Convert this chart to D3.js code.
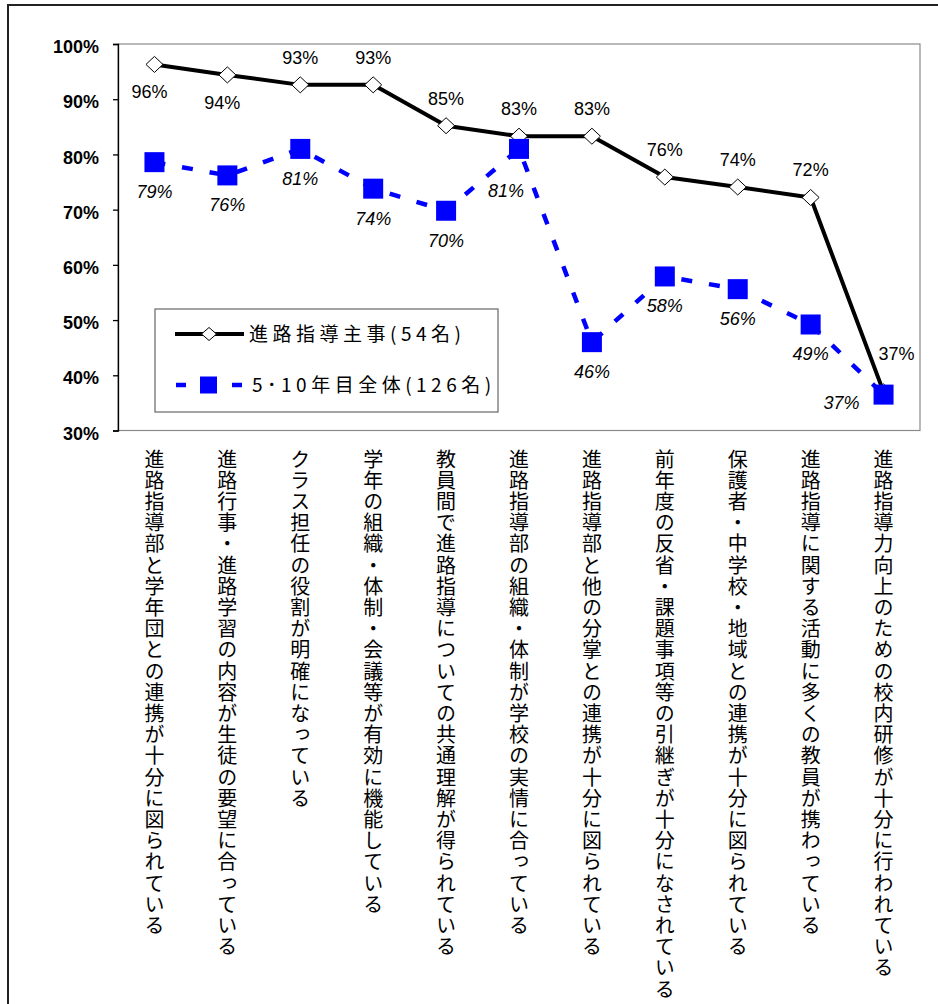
<!DOCTYPE html>
<html lang="ja">
<head>
<meta charset="utf-8">
<script src="https://cdn.jsdelivr.net/npm/d3@7"></script>
<style>
  html, body { margin: 0; padding: 0; background: #fff; }
  svg { display: block; }
  .ytick text { font-family: "Liberation Sans", Arial, sans-serif; font-weight: bold; font-size: 18px; fill: #000; }
  .val { font-family: "Liberation Sans", Arial, sans-serif; font-size: 18px; fill: #000; }
  .val.s2 { font-style: italic; }
  .cat { font-family: "Noto Sans CJK JP", sans-serif; font-size: 20px; fill: #000; writing-mode: vertical-rl; letter-spacing: 1.2px; }
  .leg { font-family: "Noto Sans CJK JP", sans-serif; font-size: 19px; fill: #000; letter-spacing: 4.5px; }
</style>
</head>
<body>
<svg id="chart" width="938" height="1004"></svg>
<script>
// Survey items (x axis)
const categories = [
  "進路指導部と学年団との連携が十分に図られている",
  "進路行事・進路学習の内容が生徒の要望に合っている",
  "クラス担任の役割が明確になっている",
  "学年の組織・体制・会議等が有効に機能している",
  "教員間で進路指導についての共通理解が得られている",
  "進路指導部の組織・体制が学校の実情に合っている",
  "進路指導部と他の分掌との連携が十分に図られている",
  "前年度の反省・課題事項等の引継ぎが十分になされている",
  "保護者・中学校・地域との連携が十分に図られている",
  "進路指導に関する活動に多くの教員が携わっている",
  "進路指導力向上のための校内研修が十分に行われている"
];

// Series names
const seriesNames = ["進路指導主事(54名)", "5･10年目全体(126名)"];

// Share answering "yes" (%)
const chiefValues = [96.3, 94.4, 92.6, 92.6, 85.2, 83.3, 83.3, 75.9, 74.1, 72.2, 37.0];
const allValues   = [78.6, 76.2, 81.0, 73.8, 69.8, 81.0, 46.0, 57.9, 55.6, 49.2, 36.5];

// Y axis ticks (%)
const yTicks = [30, 40, 50, 60, 70, 80, 90, 100];

// Where each value label sits relative to its marker
const chiefLabelSide = ["below", "below", "above", "above", "above", "above", "above", "above", "above", "above", "right"];
const allLabelSide   = ["below", "below", "below", "below", "below", "belowLeft", "below", "below", "below", "below", "left"];

const svg = d3.select("#chart");
const W = 938, H = 1004;
const plot = { left: 118, right: 920, top: 44, bottom: 430.5 };

svg.append("rect").attr("width", W).attr("height", H).attr("fill", "#fff");

// outer frame (open to the right and bottom)
svg.append("path")
  .attr("d", `M8,${H + 2}V5H${W + 2}`)
  .attr("fill", "none").attr("stroke", "#222").attr("stroke-width", 2);

const x = d3.scaleBand().domain(categories).range([plot.left, plot.right]).padding(0);
const cx = c => x(c) + x.bandwidth() / 2;
const y = d3.scaleLinear().domain([30, 100]).range([plot.bottom, plot.top]);

// plot area border
svg.append("rect")
  .attr("x", plot.left).attr("y", plot.top)
  .attr("width", plot.right - plot.left).attr("height", plot.bottom - plot.top)
  .attr("fill", "none").attr("stroke", "#8a8a8a").attr("stroke-width", 1.2);

// y axis
const yAxis = svg.append("g").attr("class", "ytick")
  .attr("transform", `translate(${plot.left},0)`)
  .call(d3.axisLeft(y).tickValues(yTicks).tickSize(5).tickPadding(14).tickFormat(d => d + "%"));
yAxis.select(".domain").attr("stroke", "#000").attr("stroke-width", 1.3);
yAxis.selectAll(".tick line").attr("stroke", "#000").attr("stroke-width", 1.3);
yAxis.selectAll(".tick text").attr("dy", "0.48em");

// category labels, written vertically
svg.append("g").selectAll("text").data(categories).join("text")
  .attr("class", "cat")
  .attr("x", d => cx(d))
  .attr("y", 449)
  .attr("text-anchor", "start")
  .text(d => d);

const diamondPath = (hw, hh) => `M0,${-hh}L${hw},0L0,${hh}L${-hw},0Z`;

// series 1: solid black line with white diamonds
const line = d3.line().x((d, i) => cx(categories[i])).y(d => y(d));
svg.append("path").datum(chiefValues)
  .attr("d", line).attr("fill", "none")
  .attr("stroke", "#000").attr("stroke-width", 4).attr("stroke-linejoin", "round");
svg.append("g").selectAll("path").data(chiefValues).join("path")
  .attr("transform", (d, i) => `translate(${cx(categories[i])},${y(d)})`)
  .attr("d", diamondPath(8.5, 8))
  .attr("fill", "#fff").attr("stroke", "#000").attr("stroke-width", 1);

// series 2: dashed blue line with blue squares
svg.append("path").datum(allValues)
  .attr("d", line).attr("fill", "none")
  .attr("stroke", "#0000ff").attr("stroke-width", 4.5)
  .attr("stroke-dasharray", "11,17");
const sq = 20;
svg.append("g").selectAll("rect").data(allValues).join("rect")
  .attr("x", (d, i) => cx(categories[i]) - sq / 2)
  .attr("y", d => y(d) - sq / 2)
  .attr("width", sq).attr("height", sq)
  .attr("fill", "#0000ff");

// value labels
const fmt = v => Math.round(v) + "%";
const chiefOffset = { above: [0, -21], below: [-5, 34], right: [13, -32] };
const allOffset = { below: [0, 36], belowLeft: [-13, 48], left: [-42, 14] };

svg.append("g").selectAll("text").data(chiefValues).join("text")
  .attr("class", "val s1")
  .attr("text-anchor", "middle")
  .attr("x", (d, i) => cx(categories[i]) + chiefOffset[chiefLabelSide[i]][0])
  .attr("y", (d, i) => y(d) + chiefOffset[chiefLabelSide[i]][1])
  .text(fmt);

svg.append("g").selectAll("text").data(allValues).join("text")
  .attr("class", "val s2")
  .attr("text-anchor", "middle")
  .attr("x", (d, i) => cx(categories[i]) + allOffset[allLabelSide[i]][0])
  .attr("y", (d, i) => y(d) + allOffset[allLabelSide[i]][1])
  .text(fmt);

// legend
const lg = svg.append("g");
lg.append("rect").attr("x", 155).attr("y", 309).attr("width", 343).attr("height", 103)
  .attr("fill", "#fff").attr("stroke", "#666").attr("stroke-width", 1.2);

lg.append("line").attr("x1", 175).attr("x2", 244).attr("y1", 334).attr("y2", 334)
  .attr("stroke", "#000").attr("stroke-width", 4);
lg.append("path").attr("transform", "translate(209,334)")
  .attr("d", diamondPath(7.5, 6.5))
  .attr("fill", "#fff").attr("stroke", "#000").attr("stroke-width", 1);
lg.append("text").attr("class", "leg").attr("x", 249).attr("y", 334).attr("dy", "0.36em")
  .text(seriesNames[0]);

lg.append("line").attr("x1", 176).attr("x2", 243).attr("y1", 385).attr("y2", 385)
  .attr("stroke", "#0000ff").attr("stroke-width", 4.5).attr("stroke-dasharray", "10,18");
lg.append("rect").attr("x", 200).attr("y", 376.5).attr("width", 17).attr("height", 17)
  .attr("fill", "#0000ff");
lg.append("text").attr("class", "leg").attr("x", 252).attr("y", 385).attr("dy", "0.36em")
  .text(seriesNames[1]);
</script>
</body>
</html>
